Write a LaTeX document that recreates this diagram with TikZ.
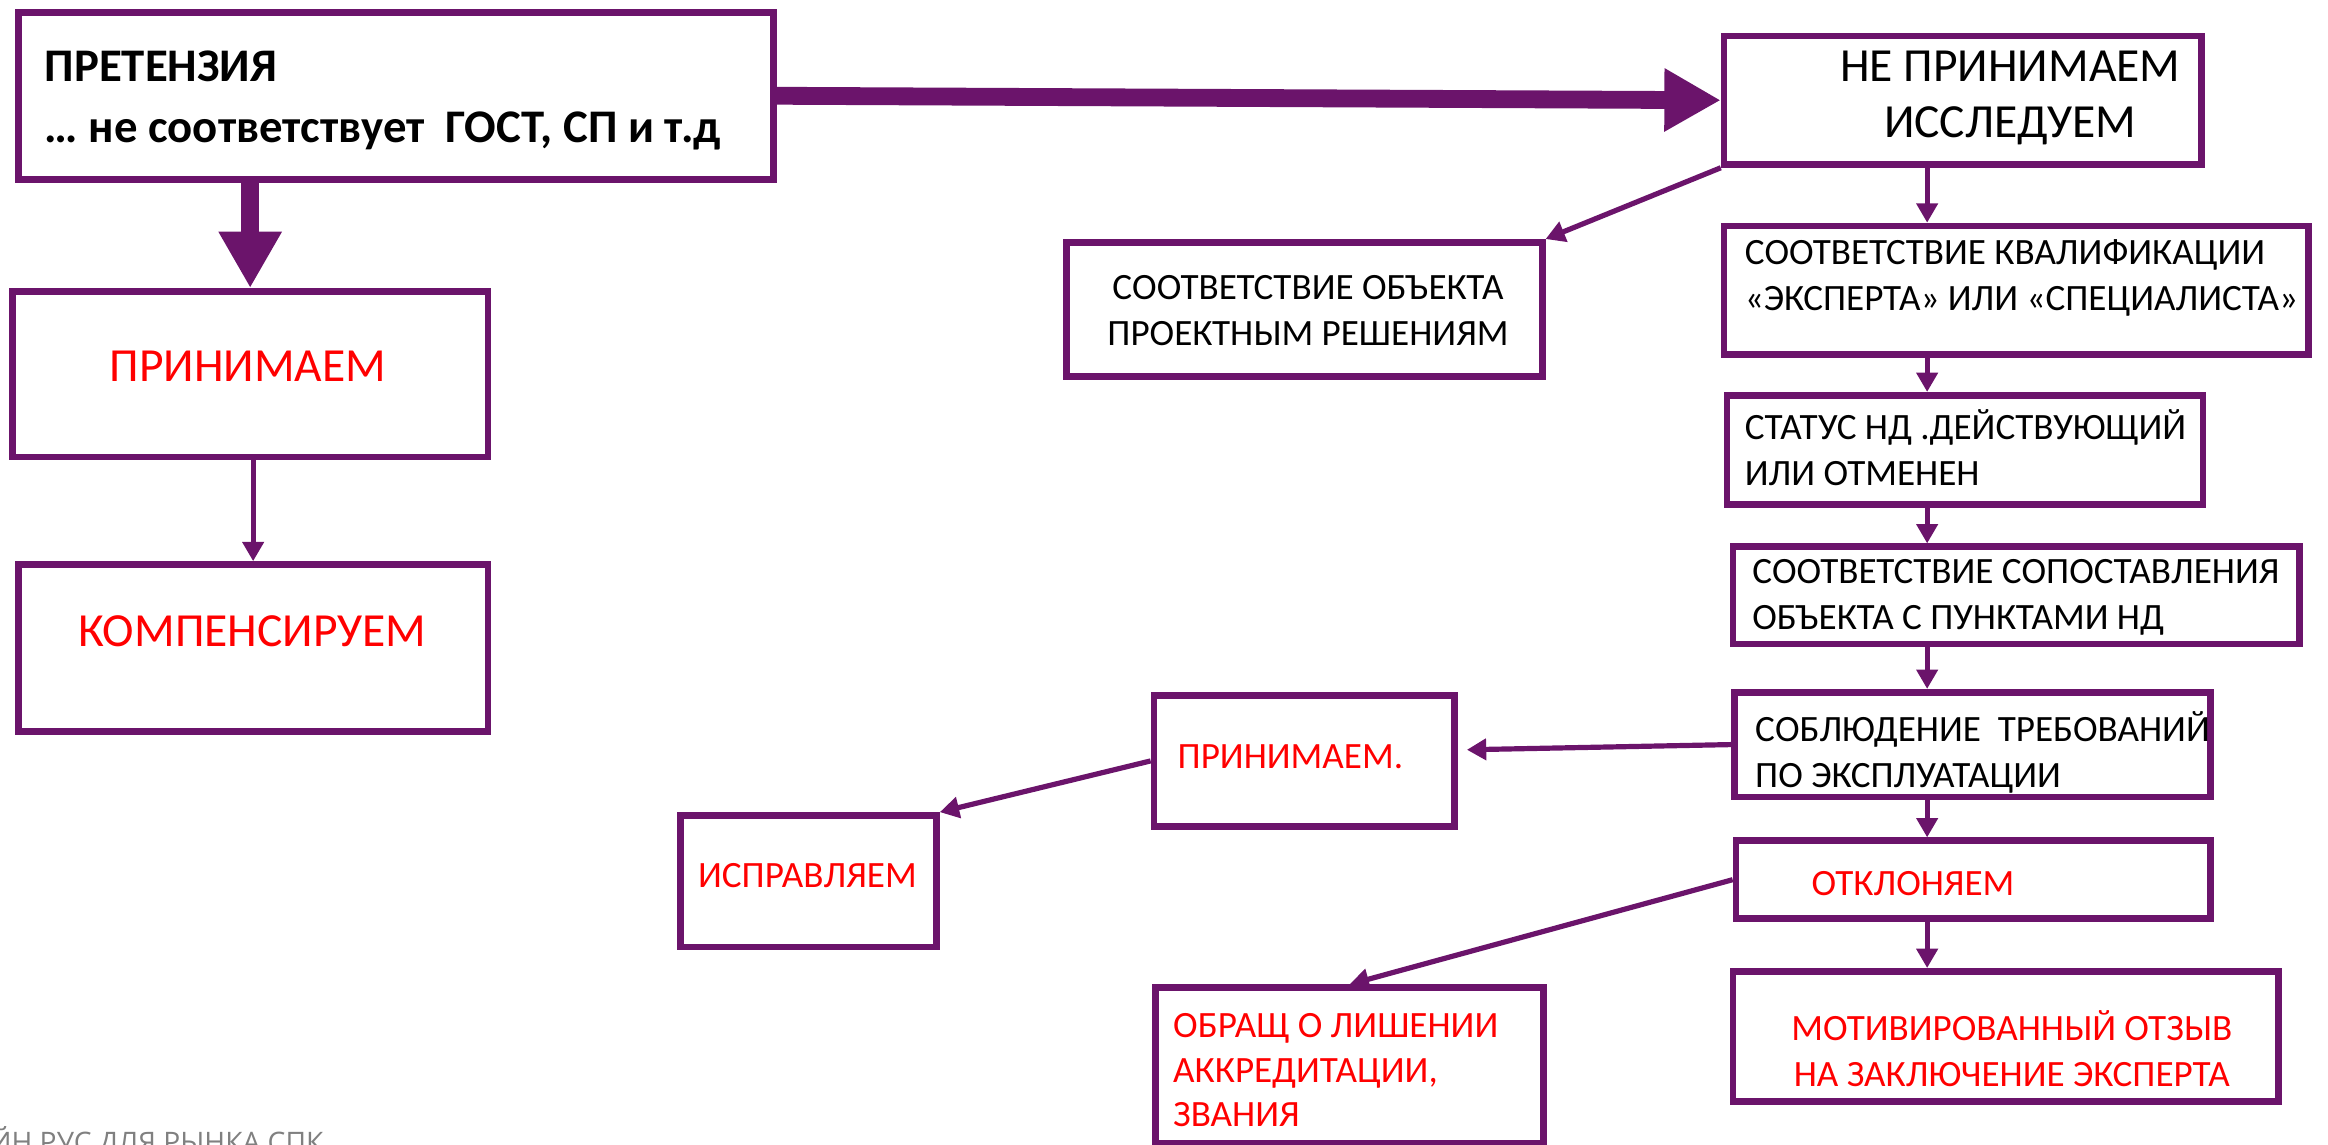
\documentclass[tikz,border=0pt]{standalone}
\usepackage{fontspec}
\setmainfont{Carlito}
\newfontfamily\footfont{Open Sans}
\usetikzlibrary{arrows.meta}
\definecolor{purp}{RGB}{107,20,107}
\definecolor{redtxt}{RGB}{255,0,0}
\definecolor{footgray}{RGB}{128,128,128}
\begin{document}
\begin{tikzpicture}[x=1pt,y=-1pt,
  box/.style={draw=purp,line width=4.5pt,rectangle,inner sep=0pt},
  lbl/.style={inner sep=0pt,font=\fontsize{25}{31}\selectfont,align=left},
  rlbl/.style={lbl,text=redtxt},
  conn/.style={draw=purp,line width=3.5pt,-{Triangle[length=13pt,width=14pt]}},
  bigarrow/.style={draw=purp,line width=12pt,-{Triangle[length=38pt,width=40pt]}},
]
\useasboundingbox (0,0) rectangle (1568,771);
\clip (0,0) rectangle (1568,771);
% boxes
\node[box,minimum width=508.5pt,minimum height=112.5pt] (A) at (266.5,64.5) {};
\node[box,minimum width=321.5pt,minimum height=86.5pt] (B) at (1322,67.5) {};
\node[box,minimum width=320.5pt,minimum height=111.5pt] (C) at (168.5,252) {};
\node[box,minimum width=316.5pt,minimum height=112.5pt] (D) at (170.5,436.5) {};
\node[box,minimum width=320.5pt,minimum height=90.5pt] (E) at (878.5,208.5) {};
\node[box,minimum width=393.5pt,minimum height=86.5pt] (F) at (1358,195.5) {};
\node[box,minimum width=320.5pt,minimum height=73.5pt] (G) at (1323.5,303) {};
\node[box,minimum width=381.5pt,minimum height=65.5pt] (H) at (1358,401) {};
\node[box,minimum width=320.5pt,minimum height=70.5pt] (I) at (1328.5,501.5) {};
\node[box,minimum width=319.5pt,minimum height=52.5pt] (J) at (1329,592.5) {};
\node[box,minimum width=202.5pt,minimum height=88.5pt] (K) at (878.5,512.5) {};
\node[box,minimum width=172.5pt,minimum height=88.5pt] (L) at (544.5,593.5) {};
\node[box,minimum width=261.5pt,minimum height=104.5pt] (M) at (909,717.5) {};
\node[box,minimum width=367.5pt,minimum height=87.5pt] (N) at (1351,698) {};
% texts
\node[lbl,anchor=west,font=\bfseries\fontsize{31.5}{41}\selectfont] (tA) at (30,67.5) {ПРЕТЕНЗИЯ\\… не соответствует\ \ ГОСТ, СП и т.д};
\node[lbl,align=center,font=\fontsize{32}{38}\selectfont] (tB) at (1354,66) {НЕ ПРИНИМАЕМ\\ИССЛЕДУЕМ};
\node[rlbl,font=\fontsize{32}{34}\selectfont] (tC) at (167,247) {ПРИНИМАЕМ};
\node[rlbl,font=\fontsize{32}{34}\selectfont] (tD) at (170,425) {КОМПЕНСИРУЕМ};
\node[lbl,align=center] (tE) at (881,209) {СООТВЕТСТВИЕ ОБЪЕКТА\\ПРОЕКТНЫМ РЕШЕНИЯМ};
\node[lbl,anchor=west] (tF) at (1175,187.5) {СООТВЕТСТВИЕ КВАЛИФИКАЦИИ\\«ЭКСПЕРТА» ИЛИ «СПЕЦИАЛИСТА»};
\node[lbl,anchor=west] (tG) at (1175,301.5) {СТАТУС НД .ДЕЙСТВУЮЩИЙ\\ИЛИ ОТМЕНЕН};
\node[lbl,anchor=west] (tH) at (1180,402.5) {СООТВЕТСТВИЕ СОПОСТАВЛЕНИЯ\\ОБЪЕКТА С ПУНКТАМИ НД};
\node[lbl,anchor=west] (tI) at (1182,507) {СОБЛЮДЕНИЕ\ \ ТРЕБОВАНИЙ\\ПО ЭКСПЛУАТАЦИИ};
\node[rlbl,anchor=west] (tJ) at (1220,595) {ОТКЛОНЯЕМ};
\node[rlbl,anchor=west] (tK) at (793,510) {ПРИНИМАЕМ.};
\node[rlbl,anchor=west] (tL) at (470,590) {ИСПРАВЛЯЕМ};
\node[rlbl,anchor=west,font=\fontsize{25}{30}\selectfont] (tM) at (790,721) {ОБРАЩ О ЛИШЕНИИ\\АККРЕДИТАЦИИ,\\ЗВАНИЯ};
\node[rlbl,align=center] (tN) at (1355,706) {МОТИВИРОВАННЫЙ ОТЗЫВ\\НА ЗАКЛЮЧЕНИЕ ЭКСПЕРТА};
\node[anchor=base east,inner sep=0pt,font=\footfont\fontsize{19}{22}\selectfont,text=footgray] (foot) at (218,776) {ЙН РУС ДЛЯ РЫНКА СПК};
% connectors
\coordinate (sp) at (1298,0);
\draw[bigarrow] (A.east) -- (B.west);
\draw[bigarrow] (C.north |- A.south) -- (C.north);
\draw[conn] (C.south -| D.north) -- (D.north);
\draw[conn] (B.south west) -- (E.north east);
\draw[conn] (B.south -| sp) -- (F.north -| sp);
\draw[conn] (F.south -| sp) -- (G.north -| sp);
\draw[conn] (G.south -| sp) -- (H.north -| sp);
\draw[conn] (H.south -| sp) -- (I.north -| sp);
\draw[conn] (I.south -| sp) -- (J.north -| sp);
\draw[conn] (J.south -| sp) -- (N.north -| sp);
\draw[conn] (I.west) -- ([xshift=6pt,yshift=7.5pt]K.east);
\draw[conn] (K.west) -- (L.north east);
\draw[conn] (J.west) -- (M.north);
\end{tikzpicture}
\end{document}
